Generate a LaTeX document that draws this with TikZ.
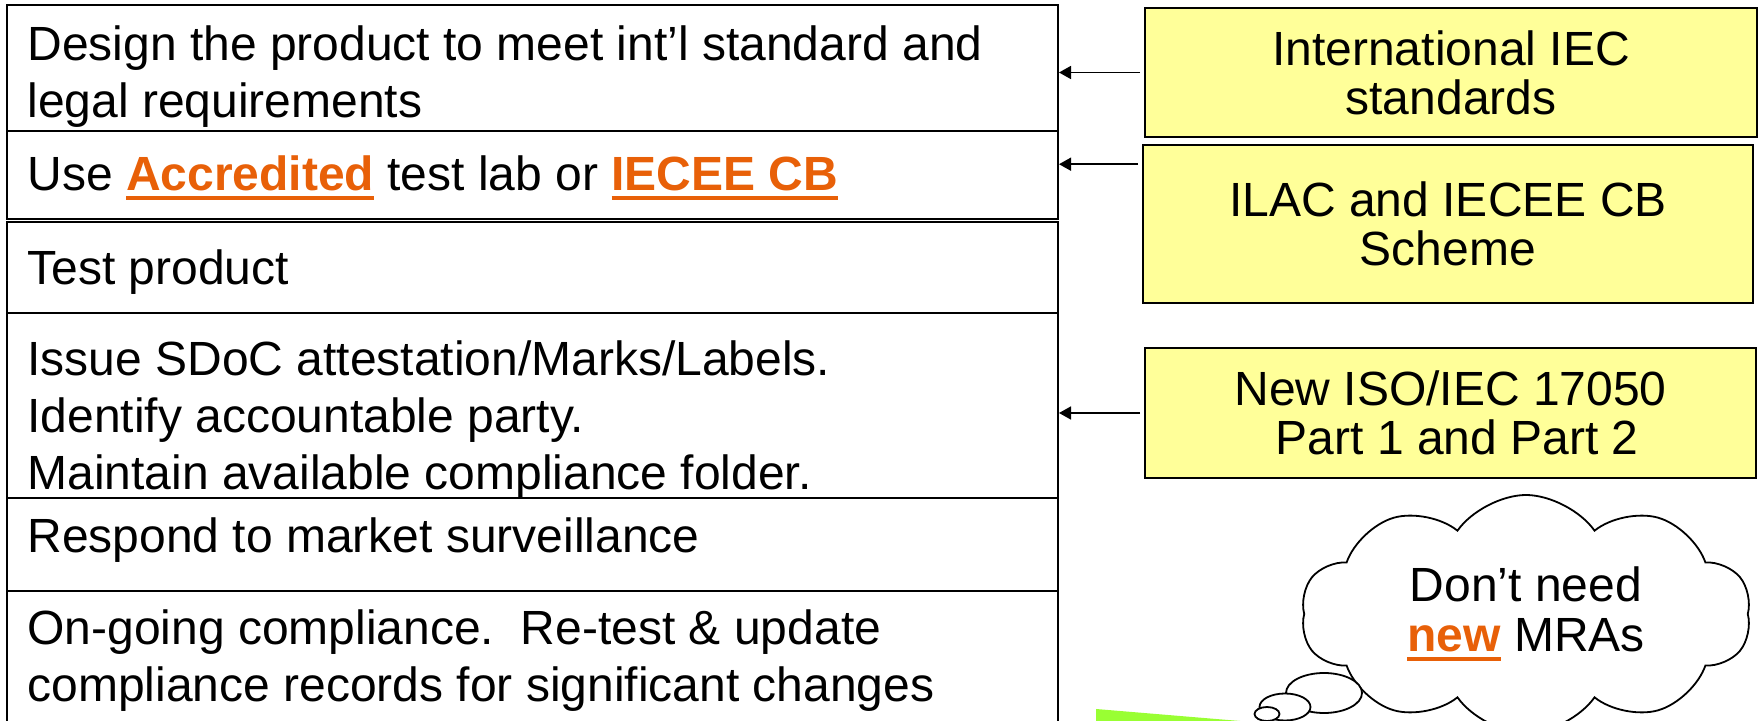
\documentclass[tikz,border=0pt]{standalone}
\usepackage{fontspec}
\setmainfont{Liberation Sans}
\usetikzlibrary{arrows.meta}
\usetikzlibrary{shapes.geometric}
\usetikzlibrary{shapes.symbols}
\definecolor{linkorange}{RGB}{232,96,8}
\definecolor{noteyellow}{RGB}{255,255,153}
\definecolor{arrowgreen}{RGB}{153,255,51}
\newcommand{\linkword}[1]{{\bfseries\color{linkorange}\setbox0\hbox{#1}\rlap{\rule[-4.5pt]{\wd0}{2pt}}\box0}}
\tikzset{
    rowbox/.style={
        rectangle,
        draw=black,
        line width=1pt,
        anchor=north west,
        minimum width=525.5pt,
        inner sep=0pt
    },
    rowtext/.style={
        anchor=base west,
        align=left,
        inner sep=0pt,
        font=\fontsize{24}{28.5}\selectfont
    },
    notebox/.style={
        rectangle,
        draw=black,
        fill=noteyellow,
        line width=0.8pt,
        align=center,
        font=\fontsize{24}{24.5}\selectfont
    },
    feedarrow/.style={
        -{Triangle[length=6pt,width=6.5pt]},
        line width=0.8pt,
        shorten <=2pt
    },
    puff/.style={
        ellipse,
        draw=black,
        fill=white,
        line width=0.9pt,
        inner sep=0pt
    }
}
\begin{document}
\begin{tikzpicture}[x=0.5pt,y=-0.5pt]
        \useasboundingbox (0,0) rectangle (1758,721);
        \clip (0,0) rectangle (1758,721);

        \fill[arrowgreen] (1096,709) -- (1240,721) -- (1240,740) -- (1096,740) -- cycle;

        \node[rowbox,minimum height=63pt] (design) at (6,4) {};
        \node[rowbox,minimum height=44pt] (uselab) at (6,130) {};
        \node[rowbox,minimum height=45.5pt] (test) at (6,221) {};
        \node[rowbox,minimum height=92.5pt] (issue) at (6,312) {};
        \node[rowbox,minimum height=46.5pt] (respond) at (6,497) {};
        \node[rowbox,minimum height=100pt] (ongoing) at (6,590) {};

        % base of a multi-line text is its last line
        \node[rowtext] (designtxt) at (27,118) {Design the product to meet int’l standard and\\legal requirements};
        \node[rowtext] (uselabtxt) at (27,191) {Use \linkword{Accredited} test lab or \linkword{IECEE CB}};
        \node[rowtext] (testtxt) at (27,285) {Test product};
        \node[rowtext] (issuetxt) at (27,490) {Issue SDoC attestation/Marks/Labels.\\Identify accountable party.\\Maintain available compliance folder.};
        \node[rowtext] (respondtxt) at (27,553) {Respond to market surveillance};
        \node[rowtext] (ongoingtxt) at (27,702) {On-going compliance.\ \ Re-test \& update\\compliance records for significant changes};

        \node[notebox,minimum width=306pt,minimum height=64.5pt] (iec) at (1451,72.5) {International IEC\\standards};
        \node[notebox,minimum width=305pt,minimum height=79pt] (ilac) at (1448,224) {ILAC and IECEE CB\\Scheme};
        \node[notebox,minimum width=305.5pt,minimum height=65pt] (iso) at (1450.5,413) {New ISO/IEC 17050\\\hspace*{.28em}Part 1 and Part 2};

        \coordinate (ilacout) at ([yshift=-10pt]ilac.north west);
        \draw[feedarrow] (iec.west) -- (iec.west -| design.east);
        \draw[feedarrow] (ilacout) -- (ilacout -| uselab.east);
        \draw[feedarrow] (iso.west) -- (iso.west -| issue.east);

        \node[cloud,cloud puffs=10,cloud puff arc=110,aspect=1.9,draw=black,fill=white,line width=0.9pt,
              minimum width=225pt,minimum height=119pt,align=center,
              font=\fontsize{24}{25}\selectfont] (thought) at (1526,614) {Don’t need\\\linkword{new} MRAs};
        \node[puff,minimum width=38pt,minimum height=20pt] (puffbig) at (1324,693) {};
        \node[puff,minimum width=25.5pt,minimum height=13.5pt] (puffmid) at (1285,707) {};
        \node[puff,minimum width=12.5pt,minimum height=7pt] (puffsmall) at (1267,714) {};
\end{tikzpicture}
\end{document}
